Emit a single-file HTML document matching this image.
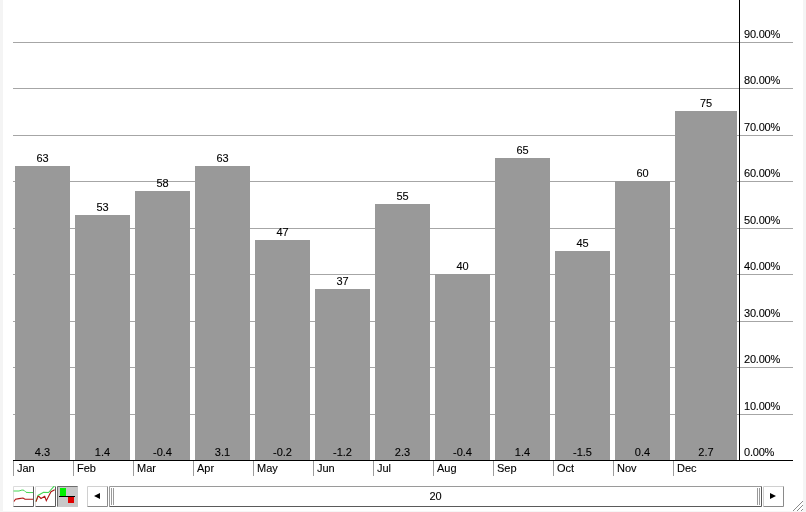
<!DOCTYPE html>
<html><head><meta charset="utf-8"><title>Chart</title>
<style>
html,body{margin:0;padding:0;background:#fff;}
body{width:806px;height:512px;position:relative;overflow:hidden;font-family:"Liberation Sans",Arial,sans-serif;font-size:11px;color:#000;}
.a{position:absolute;}
.g{position:absolute;left:13px;width:780px;height:1px;background:#a6a6a6;}
.b{position:absolute;background:#999;}
.t{position:absolute;-webkit-text-stroke:0.1px #000;font-size:11px;line-height:12px;height:12px;white-space:nowrap;}
.c{text-align:center;}
.tk{position:absolute;width:1px;top:461px;height:15px;background:#9e9e9e;}
</style></head><body>
<div class="a" style="left:0;top:0;width:3px;height:512px;background:#f4f4f4"></div>
<div class="a" style="left:803px;top:0;width:3px;height:512px;background:#f4f4f4"></div>
<div class="a" style="left:0;top:511px;width:806px;height:1px;background:#f6f6f6"></div>

<div class="g" style="top:42px"></div>
<div class="g" style="top:88px"></div>
<div class="g" style="top:135px"></div>
<div class="g" style="top:181px"></div>
<div class="g" style="top:228px"></div>
<div class="g" style="top:274px"></div>
<div class="g" style="top:321px"></div>
<div class="g" style="top:367px"></div>
<div class="g" style="top:414px"></div>
<div class="b" style="left:15px;top:166px;width:55px;height:294px"></div>
<div class="t c" style="left:15px;width:55px;top:152px">63</div>
<div class="t c" style="left:15px;width:55px;top:446px">4.3</div>
<div class="b" style="left:75px;top:215px;width:55px;height:245px"></div>
<div class="t c" style="left:75px;width:55px;top:201px">53</div>
<div class="t c" style="left:75px;width:55px;top:446px">1.4</div>
<div class="b" style="left:135px;top:191px;width:55px;height:269px"></div>
<div class="t c" style="left:135px;width:55px;top:177px">58</div>
<div class="t c" style="left:135px;width:55px;top:446px">-0.4</div>
<div class="b" style="left:195px;top:166px;width:55px;height:294px"></div>
<div class="t c" style="left:195px;width:55px;top:152px">63</div>
<div class="t c" style="left:195px;width:55px;top:446px">3.1</div>
<div class="b" style="left:255px;top:240px;width:55px;height:220px"></div>
<div class="t c" style="left:255px;width:55px;top:226px">47</div>
<div class="t c" style="left:255px;width:55px;top:446px">-0.2</div>
<div class="b" style="left:315px;top:289px;width:55px;height:171px"></div>
<div class="t c" style="left:315px;width:55px;top:275px">37</div>
<div class="t c" style="left:315px;width:55px;top:446px">-1.2</div>
<div class="b" style="left:375px;top:204px;width:55px;height:256px"></div>
<div class="t c" style="left:375px;width:55px;top:190px">55</div>
<div class="t c" style="left:375px;width:55px;top:446px">2.3</div>
<div class="b" style="left:435px;top:274px;width:55px;height:186px"></div>
<div class="t c" style="left:435px;width:55px;top:260px">40</div>
<div class="t c" style="left:435px;width:55px;top:446px">-0.4</div>
<div class="b" style="left:495px;top:158px;width:55px;height:302px"></div>
<div class="t c" style="left:495px;width:55px;top:144px">65</div>
<div class="t c" style="left:495px;width:55px;top:446px">1.4</div>
<div class="b" style="left:555px;top:251px;width:55px;height:209px"></div>
<div class="t c" style="left:555px;width:55px;top:237px">45</div>
<div class="t c" style="left:555px;width:55px;top:446px">-1.5</div>
<div class="b" style="left:615px;top:181px;width:55px;height:279px"></div>
<div class="t c" style="left:615px;width:55px;top:167px">60</div>
<div class="t c" style="left:615px;width:55px;top:446px">0.4</div>
<div class="b" style="left:675px;top:111px;width:62px;height:349px"></div>
<div class="t c" style="left:675px;width:62px;top:97px">75</div>
<div class="t c" style="left:675px;width:62px;top:446px">2.7</div>
<div class="a" style="left:13px;top:460px;width:780px;height:1px;background:#000"></div>
<div class="a" style="left:739px;top:0;width:1px;height:461px;background:#000"></div>
<div class="tk" style="left:13px"></div>
<div class="t" style="left:17px;top:462px">Jan</div>
<div class="tk" style="left:73px"></div>
<div class="t" style="left:77px;top:462px">Feb</div>
<div class="tk" style="left:133px"></div>
<div class="t" style="left:137px;top:462px">Mar</div>
<div class="tk" style="left:193px"></div>
<div class="t" style="left:197px;top:462px">Apr</div>
<div class="tk" style="left:253px"></div>
<div class="t" style="left:257px;top:462px">May</div>
<div class="tk" style="left:313px"></div>
<div class="t" style="left:317px;top:462px">Jun</div>
<div class="tk" style="left:373px"></div>
<div class="t" style="left:377px;top:462px">Jul</div>
<div class="tk" style="left:433px"></div>
<div class="t" style="left:437px;top:462px">Aug</div>
<div class="tk" style="left:493px"></div>
<div class="t" style="left:497px;top:462px">Sep</div>
<div class="tk" style="left:553px"></div>
<div class="t" style="left:557px;top:462px">Oct</div>
<div class="tk" style="left:613px"></div>
<div class="t" style="left:617px;top:462px">Nov</div>
<div class="tk" style="left:673px"></div>
<div class="t" style="left:677px;top:462px">Dec</div>
<div class="t" style="left:744px;top:28px;letter-spacing:-0.2px">90.00%</div>
<div class="t" style="left:744px;top:74px;letter-spacing:-0.2px">80.00%</div>
<div class="t" style="left:744px;top:121px;letter-spacing:-0.2px">70.00%</div>
<div class="t" style="left:744px;top:167px;letter-spacing:-0.2px">60.00%</div>
<div class="t" style="left:744px;top:214px;letter-spacing:-0.2px">50.00%</div>
<div class="t" style="left:744px;top:260px;letter-spacing:-0.2px">40.00%</div>
<div class="t" style="left:744px;top:307px;letter-spacing:-0.2px">30.00%</div>
<div class="t" style="left:744px;top:353px;letter-spacing:-0.2px">20.00%</div>
<div class="t" style="left:744px;top:400px;letter-spacing:-0.2px">10.00%</div>
<div class="t" style="left:744px;top:446px;letter-spacing:-0.2px">0.00%</div>

<svg class="a" style="left:13px;top:486px" width="65" height="21" viewBox="0 0 65 21">
 <rect x="0" y="0" width="21" height="21" fill="#fff"/>
 <path d="M0.5 20.5V0.5H20.5" fill="none" stroke="#dcdcdc"/>
 <path d="M0.5 20.5H20.5V0.5" fill="none" stroke="#5a5a5a"/>
 <polyline points="0.5,5 6,5 9,4 11,4.3 13,6.3 16,6.6 20,6.5" fill="none" stroke="#48d655" stroke-width="1"/>
 <polyline points="1,15.5 2.5,13.3 6,12.6 10,12 12,13.3 20,13.3" fill="none" stroke="#b01414" stroke-width="1.1"/>
 <rect x="22" y="0" width="21" height="21" fill="#fff"/>
 <path d="M22.5 20.5V0.5H42.5" fill="none" stroke="#dcdcdc"/>
 <path d="M22.5 20.5H42.5V0.5" fill="none" stroke="#5a5a5a"/>
 <polyline points="23,15.6 25,9.4 30.5,6.3 35.5,6.5 41.7,-0.5" fill="none" stroke="#48d655" stroke-width="1.1"/>
 <polyline points="23,15.6 25,10.3 26,10.5 28,12.5 31.7,10.3 33.3,14.7 38,5.7 41.7,3.8" fill="none" stroke="#b01414" stroke-width="1.1"/>
 <rect x="44" y="0" width="21" height="21" fill="#c8c8c8"/>
 <path d="M44.5 20.5V0.5H64.5" fill="none" stroke="#6e6e6e"/>
 <rect x="47" y="2" width="6" height="8" fill="#00f000"/>
 <rect x="55" y="11" width="6" height="6" fill="#e00000"/>
 <rect x="46" y="10" width="16" height="1" fill="#000"/>
</svg>
<svg class="a" style="left:87px;top:486px" width="700" height="21" viewBox="0 0 700 21">
 <rect x="0.5" y="0.5" width="20" height="20" fill="#fff" stroke="none"/>
 <path d="M0.5 20.5V0.5H20.5" fill="none" stroke="#d0d0d0"/>
 <path d="M0.5 20.5H20.5V0.5" fill="none" stroke="#8a8a8a"/>
 <path d="M7 10 L13 7 L13 13 Z" fill="#000"/>
 <rect x="22.5" y="0.5" width="652" height="20" fill="#fff" stroke="none"/>
 <path d="M22.5 20.5V0.5H674.5" fill="none" stroke="#9a9a9a"/>
 <path d="M22.5 20.5H674.5V0.5" fill="none" stroke="#5a5a5a"/>
 <path d="M24.5 2V19M26.5 2V19" stroke="#9a9a9a" fill="none"/>
 <path d="M670.5 2V19M672.5 2V19" stroke="#9a9a9a" fill="none"/>
 <path d="M676.5 20.5V0.5H696.5" fill="none" stroke="#d0d0d0"/>
 <path d="M676.5 20.5H696.5V0.5" fill="none" stroke="#8a8a8a"/>
 <path d="M689 10 L683 7 L683 13 Z" fill="#000"/>
</svg>
<div class="t c" style="left:109px;width:653px;top:490px">20</div>
<svg class="a" style="left:790px;top:498px" width="14" height="14" viewBox="0 0 14 14">
 <path d="M3 13L13 3M7 13L13 7M11 13L13 11" stroke="#8a8a8a" stroke-width="1" fill="none"/>
</svg>

</body></html>
